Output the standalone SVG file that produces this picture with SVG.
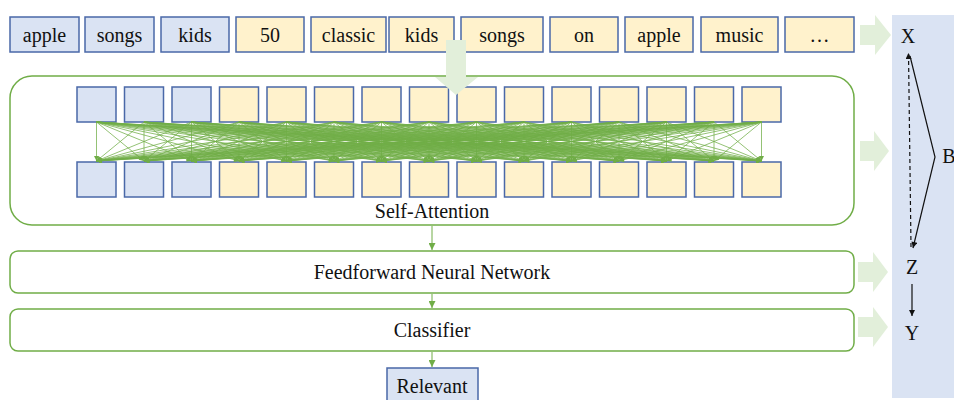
<svg xmlns="http://www.w3.org/2000/svg" width="954" height="400" viewBox="0 0 954 400" font-family="'Liberation Serif', Tinos, 'DejaVu Serif', serif">
<style>
text{font-family:"Liberation Serif",Tinos,"DejaVu Serif",serif;font-size:20px;fill:#111;text-anchor:middle}
.tb{fill:#dae3f3;stroke:#4a68a8;stroke-width:1.5}
.ty{fill:#fff2cc;stroke:#4a68a8;stroke-width:1.5}
.big{fill:#fff;stroke:#70ad47;stroke-width:1.5}
.ga{fill:#e2efda}
.att path{fill:none;stroke:#70ad47;stroke-width:0.75;marker-end:url(#ah)}
.gl{stroke:#70ad47;stroke-width:1;marker-end:url(#gh)}
.bl{fill:none;stroke:#111;stroke-width:1.2;marker-end:url(#bh)}
</style>
<defs>
<marker id="ah" viewBox="0 0 10 10" refX="10" refY="5" markerUnits="userSpaceOnUse" markerWidth="7" markerHeight="5" orient="auto"><path d="M0 0L10 5L0 10z" fill="#70ad47"/></marker>
<marker id="gh" viewBox="0 0 10 10" refX="10" refY="5" markerUnits="userSpaceOnUse" markerWidth="7" markerHeight="7" orient="auto"><path d="M0 0L10 5L0 10z" fill="#70ad47"/></marker>
<marker id="bh" viewBox="0 0 10 10" refX="10" refY="5" markerUnits="userSpaceOnUse" markerWidth="8" markerHeight="6" orient="auto"><path d="M0 0L10 5L0 10z" fill="#111"/></marker>
</defs>
<rect x="0" y="0" width="954" height="400" fill="#fff"/>

<g id="panel"><rect x="892" y="15" width="62" height="383" fill="#dae3f3"/></g>

<g id="tokens">
<g id="t1"><rect class="tb" x="10" y="17" width="69" height="35"/><text x="44.5" y="42">apple</text></g>
<g id="t2"><rect class="tb" x="85" y="17" width="69" height="35"/><text x="119.5" y="42">songs</text></g>
<g id="t3"><rect class="tb" x="161" y="17" width="68" height="35"/><text x="195" y="42">kids</text></g>
<g id="t4"><rect class="ty" x="236" y="17" width="68" height="35"/><text x="270" y="42">50</text></g>
<g id="t5"><rect class="ty" x="311" y="17" width="75" height="35"/><text x="348.5" y="42">classic</text></g>
<g id="t6"><rect class="ty" x="389" y="17" width="65" height="35"/><text x="421.5" y="42">kids</text></g>
<g id="t7"><rect class="ty" x="461" y="17" width="82" height="35"/><text x="502" y="42">songs</text></g>
<g id="t8"><rect class="ty" x="550" y="17" width="68" height="35"/><text x="584" y="42">on</text></g>
<g id="t9"><rect class="ty" x="625" y="17" width="68" height="35"/><text x="659" y="42">apple</text></g>
<g id="t10"><rect class="ty" x="701" y="17" width="77" height="35"/><text x="739.5" y="42">music</text></g>
<g id="t11"><rect class="ty" x="785" y="17" width="69" height="35"/><text x="819.5" y="42">…</text></g>
</g>

<g id="selfattention">
<rect class="big" x="10" y="76" width="844" height="149" rx="22"/>
<g id="inTop">
<rect class="tb" x="77" y="87" width="39" height="35"/>
<rect class="tb" x="124.5" y="87" width="39" height="35"/>
<rect class="tb" x="172" y="87" width="39" height="35"/>
<rect class="ty" x="219.5" y="87" width="39" height="35"/>
<rect class="ty" x="267" y="87" width="39" height="35"/>
<rect class="ty" x="314.5" y="87" width="39" height="35"/>
<rect class="ty" x="362" y="87" width="39" height="35"/>
<rect class="ty" x="409.5" y="87" width="39" height="35"/>
<rect class="ty" x="457" y="87" width="39" height="35"/>
<rect class="ty" x="504.5" y="87" width="39" height="35"/>
<rect class="ty" x="552" y="87" width="39" height="35"/>
<rect class="ty" x="599.5" y="87" width="39" height="35"/>
<rect class="ty" x="647" y="87" width="39" height="35"/>
<rect class="ty" x="694.5" y="87" width="39" height="35"/>
<rect class="ty" x="742" y="87" width="39" height="35"/>
</g>
<g id="inBottom">
<rect class="tb" x="77" y="162" width="39" height="35"/>
<rect class="tb" x="124.5" y="162" width="39" height="35"/>
<rect class="tb" x="172" y="162" width="39" height="35"/>
<rect class="ty" x="219.5" y="162" width="39" height="35"/>
<rect class="ty" x="267" y="162" width="39" height="35"/>
<rect class="ty" x="314.5" y="162" width="39" height="35"/>
<rect class="ty" x="362" y="162" width="39" height="35"/>
<rect class="ty" x="409.5" y="162" width="39" height="35"/>
<rect class="ty" x="457" y="162" width="39" height="35"/>
<rect class="ty" x="504.5" y="162" width="39" height="35"/>
<rect class="ty" x="552" y="162" width="39" height="35"/>
<rect class="ty" x="599.5" y="162" width="39" height="35"/>
<rect class="ty" x="647" y="162" width="39" height="35"/>
<rect class="ty" x="694.5" y="162" width="39" height="35"/>
<rect class="ty" x="742" y="162" width="39" height="35"/>
</g>
<text x="432" y="218">Self-Attention</text>
</g>

<g id="attention" class="att">
<path d="M96.5 122L96.5 161"/><path d="M96.5 122L144 161"/><path d="M96.5 122L191.5 161"/><path d="M96.5 122L239 161"/><path d="M96.5 122L286.5 161"/><path d="M96.5 122L334 161"/><path d="M96.5 122L381.5 161"/><path d="M96.5 122L429 161"/><path d="M96.5 122L476.5 161"/><path d="M96.5 122L524 161"/><path d="M96.5 122L571.5 161"/><path d="M96.5 122L619 161"/><path d="M96.5 122L666.5 161"/><path d="M96.5 122L714 161"/><path d="M96.5 122L761.5 161"/>
<path d="M144 122L96.5 161"/><path d="M144 122L144 161"/><path d="M144 122L191.5 161"/><path d="M144 122L239 161"/><path d="M144 122L286.5 161"/><path d="M144 122L334 161"/><path d="M144 122L381.5 161"/><path d="M144 122L429 161"/><path d="M144 122L476.5 161"/><path d="M144 122L524 161"/><path d="M144 122L571.5 161"/><path d="M144 122L619 161"/><path d="M144 122L666.5 161"/><path d="M144 122L714 161"/><path d="M144 122L761.5 161"/>
<path d="M191.5 122L96.5 161"/><path d="M191.5 122L144 161"/><path d="M191.5 122L191.5 161"/><path d="M191.5 122L239 161"/><path d="M191.5 122L286.5 161"/><path d="M191.5 122L334 161"/><path d="M191.5 122L381.5 161"/><path d="M191.5 122L429 161"/><path d="M191.5 122L476.5 161"/><path d="M191.5 122L524 161"/><path d="M191.5 122L571.5 161"/><path d="M191.5 122L619 161"/><path d="M191.5 122L666.5 161"/><path d="M191.5 122L714 161"/><path d="M191.5 122L761.5 161"/>
<path d="M239 122L96.5 161"/><path d="M239 122L144 161"/><path d="M239 122L191.5 161"/><path d="M239 122L239 161"/><path d="M239 122L286.5 161"/><path d="M239 122L334 161"/><path d="M239 122L381.5 161"/><path d="M239 122L429 161"/><path d="M239 122L476.5 161"/><path d="M239 122L524 161"/><path d="M239 122L571.5 161"/><path d="M239 122L619 161"/><path d="M239 122L666.5 161"/><path d="M239 122L714 161"/><path d="M239 122L761.5 161"/>
<path d="M286.5 122L96.5 161"/><path d="M286.5 122L144 161"/><path d="M286.5 122L191.5 161"/><path d="M286.5 122L239 161"/><path d="M286.5 122L286.5 161"/><path d="M286.5 122L334 161"/><path d="M286.5 122L381.5 161"/><path d="M286.5 122L429 161"/><path d="M286.5 122L476.5 161"/><path d="M286.5 122L524 161"/><path d="M286.5 122L571.5 161"/><path d="M286.5 122L619 161"/><path d="M286.5 122L666.5 161"/><path d="M286.5 122L714 161"/><path d="M286.5 122L761.5 161"/>
<path d="M334 122L96.5 161"/><path d="M334 122L144 161"/><path d="M334 122L191.5 161"/><path d="M334 122L239 161"/><path d="M334 122L286.5 161"/><path d="M334 122L334 161"/><path d="M334 122L381.5 161"/><path d="M334 122L429 161"/><path d="M334 122L476.5 161"/><path d="M334 122L524 161"/><path d="M334 122L571.5 161"/><path d="M334 122L619 161"/><path d="M334 122L666.5 161"/><path d="M334 122L714 161"/><path d="M334 122L761.5 161"/>
<path d="M381.5 122L96.5 161"/><path d="M381.5 122L144 161"/><path d="M381.5 122L191.5 161"/><path d="M381.5 122L239 161"/><path d="M381.5 122L286.5 161"/><path d="M381.5 122L334 161"/><path d="M381.5 122L381.5 161"/><path d="M381.5 122L429 161"/><path d="M381.5 122L476.5 161"/><path d="M381.5 122L524 161"/><path d="M381.5 122L571.5 161"/><path d="M381.5 122L619 161"/><path d="M381.5 122L666.5 161"/><path d="M381.5 122L714 161"/><path d="M381.5 122L761.5 161"/>
<path d="M429 122L96.5 161"/><path d="M429 122L144 161"/><path d="M429 122L191.5 161"/><path d="M429 122L239 161"/><path d="M429 122L286.5 161"/><path d="M429 122L334 161"/><path d="M429 122L381.5 161"/><path d="M429 122L429 161"/><path d="M429 122L476.5 161"/><path d="M429 122L524 161"/><path d="M429 122L571.5 161"/><path d="M429 122L619 161"/><path d="M429 122L666.5 161"/><path d="M429 122L714 161"/><path d="M429 122L761.5 161"/>
<path d="M476.5 122L96.5 161"/><path d="M476.5 122L144 161"/><path d="M476.5 122L191.5 161"/><path d="M476.5 122L239 161"/><path d="M476.5 122L286.5 161"/><path d="M476.5 122L334 161"/><path d="M476.5 122L381.5 161"/><path d="M476.5 122L429 161"/><path d="M476.5 122L476.5 161"/><path d="M476.5 122L524 161"/><path d="M476.5 122L571.5 161"/><path d="M476.5 122L619 161"/><path d="M476.5 122L666.5 161"/><path d="M476.5 122L714 161"/><path d="M476.5 122L761.5 161"/>
<path d="M524 122L96.5 161"/><path d="M524 122L144 161"/><path d="M524 122L191.5 161"/><path d="M524 122L239 161"/><path d="M524 122L286.5 161"/><path d="M524 122L334 161"/><path d="M524 122L381.5 161"/><path d="M524 122L429 161"/><path d="M524 122L476.5 161"/><path d="M524 122L524 161"/><path d="M524 122L571.5 161"/><path d="M524 122L619 161"/><path d="M524 122L666.5 161"/><path d="M524 122L714 161"/><path d="M524 122L761.5 161"/>
<path d="M571.5 122L96.5 161"/><path d="M571.5 122L144 161"/><path d="M571.5 122L191.5 161"/><path d="M571.5 122L239 161"/><path d="M571.5 122L286.5 161"/><path d="M571.5 122L334 161"/><path d="M571.5 122L381.5 161"/><path d="M571.5 122L429 161"/><path d="M571.5 122L476.5 161"/><path d="M571.5 122L524 161"/><path d="M571.5 122L571.5 161"/><path d="M571.5 122L619 161"/><path d="M571.5 122L666.5 161"/><path d="M571.5 122L714 161"/><path d="M571.5 122L761.5 161"/>
<path d="M619 122L96.5 161"/><path d="M619 122L144 161"/><path d="M619 122L191.5 161"/><path d="M619 122L239 161"/><path d="M619 122L286.5 161"/><path d="M619 122L334 161"/><path d="M619 122L381.5 161"/><path d="M619 122L429 161"/><path d="M619 122L476.5 161"/><path d="M619 122L524 161"/><path d="M619 122L571.5 161"/><path d="M619 122L619 161"/><path d="M619 122L666.5 161"/><path d="M619 122L714 161"/><path d="M619 122L761.5 161"/>
<path d="M666.5 122L96.5 161"/><path d="M666.5 122L144 161"/><path d="M666.5 122L191.5 161"/><path d="M666.5 122L239 161"/><path d="M666.5 122L286.5 161"/><path d="M666.5 122L334 161"/><path d="M666.5 122L381.5 161"/><path d="M666.5 122L429 161"/><path d="M666.5 122L476.5 161"/><path d="M666.5 122L524 161"/><path d="M666.5 122L571.5 161"/><path d="M666.5 122L619 161"/><path d="M666.5 122L666.5 161"/><path d="M666.5 122L714 161"/><path d="M666.5 122L761.5 161"/>
<path d="M714 122L96.5 161"/><path d="M714 122L144 161"/><path d="M714 122L191.5 161"/><path d="M714 122L239 161"/><path d="M714 122L286.5 161"/><path d="M714 122L334 161"/><path d="M714 122L381.5 161"/><path d="M714 122L429 161"/><path d="M714 122L476.5 161"/><path d="M714 122L524 161"/><path d="M714 122L571.5 161"/><path d="M714 122L619 161"/><path d="M714 122L666.5 161"/><path d="M714 122L714 161"/><path d="M714 122L761.5 161"/>
<path d="M761.5 122L96.5 161"/><path d="M761.5 122L144 161"/><path d="M761.5 122L191.5 161"/><path d="M761.5 122L239 161"/><path d="M761.5 122L286.5 161"/><path d="M761.5 122L334 161"/><path d="M761.5 122L381.5 161"/><path d="M761.5 122L429 161"/><path d="M761.5 122L476.5 161"/><path d="M761.5 122L524 161"/><path d="M761.5 122L571.5 161"/><path d="M761.5 122L619 161"/><path d="M761.5 122L666.5 161"/><path d="M761.5 122L714 161"/><path d="M761.5 122L761.5 161"/>
</g>

<g id="ffn"><rect class="big" x="10" y="251" width="844" height="42" rx="8"/><text x="432" y="279">Feedforward Neural Network</text></g>
<g id="classifier"><rect class="big" x="10" y="309" width="844" height="42" rx="8"/><text x="432" y="337">Classifier</text></g>
<g id="relevant"><rect class="tb" x="387" y="368" width="91" height="40"/><text x="432" y="393">Relevant</text></g>

<g id="connectors">
<polygon class="ga" points="446,40 466,40 466,77 478,77 456,95 435,77 446,77"/>
<polygon class="ga" points="860,25 875,25 875,15 891,35 875,55 875,45 860,45"/>
<polygon class="ga" points="860,141 874,141 874,131 889,151 874,171 874,161 860,161"/>
<polygon class="ga" points="858,262 873,262 873,252 888,272 873,292 873,282 858,282"/>
<polygon class="ga" points="858,317 873,317 873,307 888,327 873,347 873,337 858,337"/>
<line class="gl" x1="432" y1="226" x2="432" y2="250"/>
<line class="gl" x1="432" y1="294" x2="432" y2="308"/>
<line class="gl" x1="432" y1="352" x2="432" y2="367"/>
<path class="bl" d="M911 247L908.5 53" stroke-dasharray="4 3"/>
<path class="bl" d="M910 56L935 157L913 248"/>
<path class="bl" d="M912 284L912 316"/>
</g>

<g id="labels">
<text x="908" y="43">X</text>
<text x="949" y="163">B</text>
<text x="912" y="274">Z</text>
<text x="912" y="340">Y</text>
</g>
</svg>
